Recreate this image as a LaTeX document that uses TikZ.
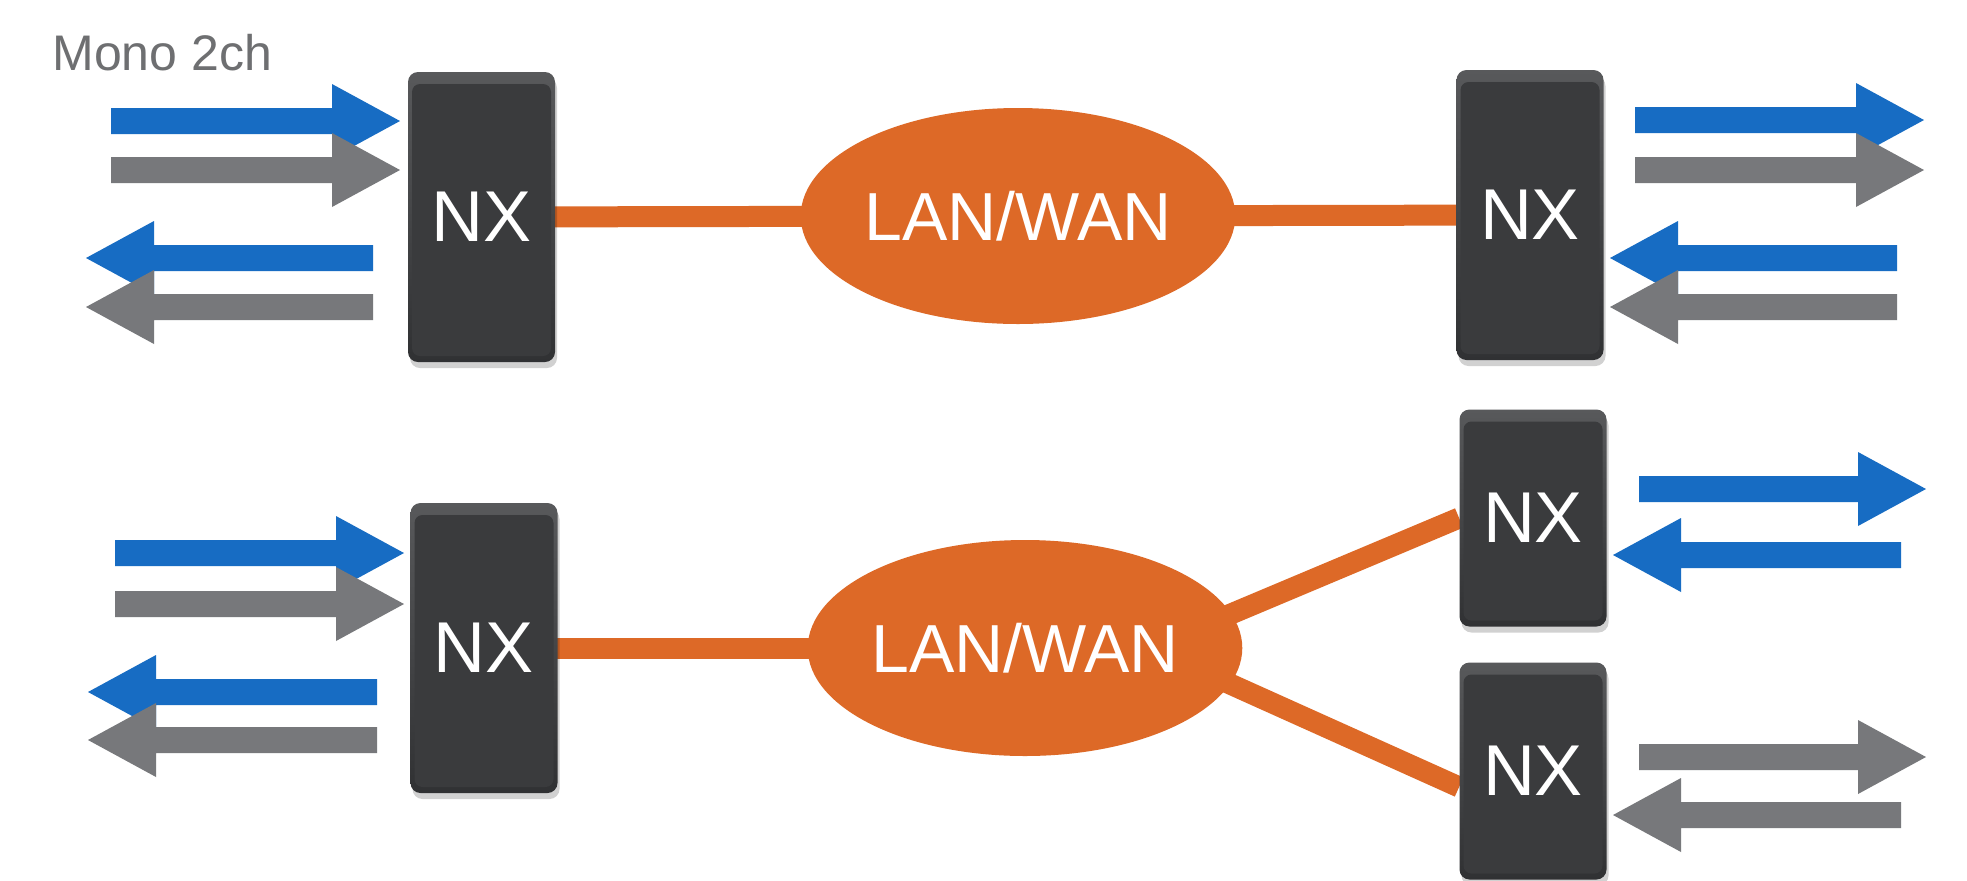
\documentclass[tikz,border=0pt]{standalone}
\usepackage{fontspec}
\newfontfamily\heros{Liberation Sans}
\usetikzlibrary{shapes.geometric,shadows,backgrounds}
\definecolor{nxblue}{RGB}{23,108,195}
\definecolor{nxgray}{RGB}{119,120,123}
\definecolor{nxorange}{RGB}{221,105,39}
\definecolor{boxdark}{RGB}{58,59,61}
\definecolor{boxhi}{RGB}{88,89,91}
\definecolor{boxlow}{RGB}{48,49,51}
\definecolor{labelgray}{RGB}{110,111,113}
\pgfdeclarelayer{bg}
\pgfsetlayers{bg,background,main}
\newcommand{\flowarrow}[5]{% colour, x start, x tip, y, direction (1 right, -1 left)
  \fill[#1] (#2,#4-13) -- ({#3-(#5)*68},#4-13) -- ({#3-(#5)*68},#4-37) -- (#3,#4)
    -- ({#3-(#5)*68},#4+37) -- ({#3-(#5)*68},#4+13) -- (#2,#4+13) -- cycle;}
\tikzset{
  nxbox/.style={rectangle, rounded corners=5pt, minimum width=73.5pt, inner sep=0pt,
    top color=boxhi, bottom color=boxlow, text=white,
    font={\heros\fontsize{36}{40}\selectfont},
    drop shadow={shadow xshift=1pt, shadow yshift=-3pt, opacity=0.18, fill=black},
    path picture={\fill[boxdark, rounded corners=4pt]
      ([xshift=2pt,yshift=-6pt]path picture bounding box.north west) rectangle
      ([xshift=-2pt,yshift=3pt]path picture bounding box.south east);}},
  tallbox/.style={nxbox, minimum height=145pt},
  shortbox/.style={nxbox, minimum height=108.5pt},
  cloud/.style={ellipse, fill=nxorange, inner sep=0pt, text=white,
    font={\heros\fontsize{34}{40}\selectfont}},
  link/.style={draw=nxorange, line width=10.5pt},
}
\begin{document}
\begin{tikzpicture}[x=0.5pt, y=-0.5pt]
\useasboundingbox (0,0) rectangle (1967,880);
\begin{pgfonlayer}{bg}
  \fill[white] (0,0) rectangle (1967,880);
\end{pgfonlayer}

% label
\node[anchor=base west, inner sep=0pt, text=labelgray, font={\heros\fontsize{25}{30}\selectfont}] (mono) at (52,70) {Mono 2ch};

% top row
\node[tallbox] (tl) at (481.5,217) {NX};
\node[tallbox] (tr) at (1530,215) {NX};
\node[cloud, minimum width=213pt, minimum height=108pt] (e1) at (1018,216) {LAN/WAN};

% bottom row
\node[tallbox] (bl) at (484,648) {NX};
\node[cloud, minimum width=215pt, minimum height=108pt] (e2) at (1025,648) {LAN/WAN};
\node[shortbox] (br1) at (1533,518) {NX};
\node[shortbox] (br2) at (1533,771) {NX};
\coordinate (hub) at ([xshift=62.5pt]e2.center);

\begin{pgfonlayer}{background}
  \draw[link] (tl.center) -- (tr.center);
  \draw[link] (bl.center) -- (e2.center);
  \draw[link] (hub) -- (br1.west);
  \draw[link] (hub) -- ([yshift=-8pt]br2.west);
\end{pgfonlayer}

% top-left arrows
\flowarrow{nxblue}{111}{400}{121}{1}
\flowarrow{nxgray}{111}{400}{170}{1}
\flowarrow{nxblue}{373}{86}{258}{-1}
\flowarrow{nxgray}{373}{86}{307}{-1}
% top-right arrows
\flowarrow{nxblue}{1635}{1924}{120}{1}
\flowarrow{nxgray}{1635}{1924}{170}{1}
\flowarrow{nxblue}{1897}{1610}{258}{-1}
\flowarrow{nxgray}{1897}{1610}{307}{-1}
% bottom-left arrows
\flowarrow{nxblue}{115}{404}{553}{1}
\flowarrow{nxgray}{115}{404}{604}{1}
\flowarrow{nxblue}{377}{88}{692}{-1}
\flowarrow{nxgray}{377}{88}{740}{-1}
% bottom-right arrows
\flowarrow{nxblue}{1639}{1926}{489}{1}
\flowarrow{nxblue}{1901}{1613}{555}{-1}
\flowarrow{nxgray}{1639}{1926}{757}{1}
\flowarrow{nxgray}{1901}{1613}{815}{-1}
\end{tikzpicture}
\end{document}
